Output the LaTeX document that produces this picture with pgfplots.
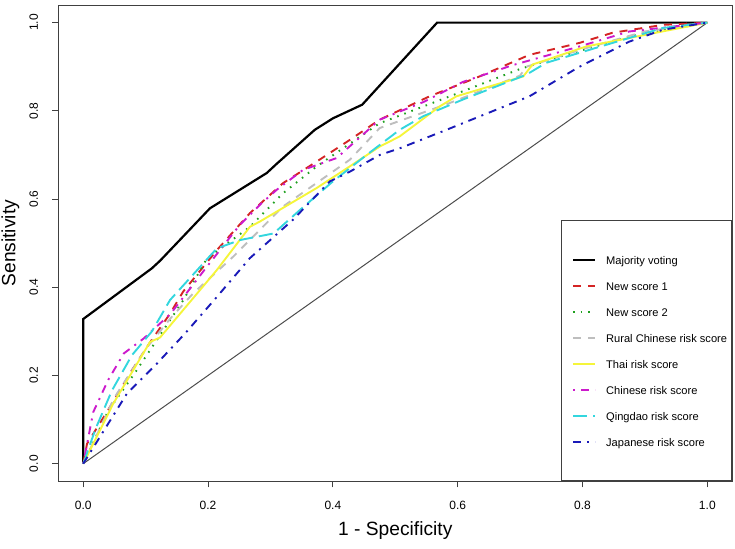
\documentclass[border=0pt]{standalone}
\usepackage{pgfplots}
\pgfplotsset{compat=1.18}
\usepackage{fontspec}
\setmainfont{Liberation Sans}
\definecolor{cRed}{HTML}{D42424}
\definecolor{cGreen}{HTML}{1FA01F}
\definecolor{cGray}{HTML}{BEBEBE}
\definecolor{cYellow}{HTML}{F5F53A}
\definecolor{cMag}{HTML}{CC1ACC}
\definecolor{cCyan}{HTML}{33D6DE}
\definecolor{cBlue}{HTML}{1A1AB8}
\begin{document}
\begin{tikzpicture}
\path[use as bounding box] (-29.15pt,-33.35pt) rectangle (338.35pt,240.65pt);
\begin{axis}[
  at={(0,0)}, anchor=south west,
  scale only axis, width=337pt, height=238.15pt,
  xmin=-0.04, xmax=1.04, ymin=-0.04, ymax=1.04,
  axis line style={black!75, line width=0.5pt},
  xtick={0,0.2,0.4,0.6,0.8,1}, ytick={0,0.2,0.4,0.6,0.8,1},
  tick pos=left, tick align=outside,
  major tick length=3pt,
  tick style={black!75, line width=0.5pt},
  /pgf/number format/assume math mode=true,
  xticklabel style={font=\fontsize{6}{7}\selectfont, /pgf/number format/.cd, fixed, fixed zerofill, precision=1},
  yticklabel style={font=\fontsize{6}{7}\selectfont, rotate=90, anchor=south, /pgf/number format/.cd, fixed, fixed zerofill, precision=1},
  xticklabel shift=3.35pt, yticklabel shift=3.6pt,
  xlabel={1 - Specificity}, ylabel={Sensitivity},
  xlabel style={font=\fontsize{9.6}{11}\selectfont, at={(axis description cs:0.5,-0.103)}, anchor=center},
  ylabel style={font=\fontsize{9.6}{11}\selectfont, at={(axis description cs:-0.0712,0.5)}, anchor=center, rotate=0},
  legend style={at={(1,0)}, anchor=south east, draw=black!75, line width=0.5pt,
    font=\fontsize{5.55}{6}\selectfont, inner xsep=2.35pt, inner ysep=16.75pt,
    row sep=7.5pt, column sep=5pt,
    nodes={inner sep=0pt, text height=5pt, text depth=0.5pt}},
  legend cell align=left,
  legend image code/.code={\path (0pt,0pt); \draw[#1] (3pt,0pt) -- (14pt,0pt);},
]
\addplot[forget plot, black!70, line width=0.5pt] coordinates {(0,0) (1,1)};
\addplot[black, line width=1.1pt] coordinates {
(0,0) (0,0.328) (0.11,0.443) (0.123,0.46) (0.203,0.579) (0.294,0.659) (0.31,0.68)
(0.371,0.757) (0.4,0.783) (0.447,0.814) (0.567,1) (1,1)};
\addlegendentry{Majority voting}
\addplot[cRed, line width=0.95pt, dash pattern=on 4pt off 3.5pt] coordinates {
(0,0) (0.006,0.045) (0.043,0.129) (0.078,0.212) (0.107,0.275) (0.139,0.34) (0.16,0.39)
(0.214,0.484) (0.267,0.568) (0.32,0.636) (0.374,0.685) (0.427,0.734) (0.475,0.78)
(0.555,0.833) (0.635,0.878) (0.715,0.927) (0.795,0.954) (0.848,0.977) (0.929,0.995) (1,1)};
\addlegendentry{New score 1}
\addplot[cGreen, line width=0.95pt, dash pattern=on 0.8pt off 3pt] coordinates {
(0,0) (0.04,0.12) (0.08,0.2) (0.12,0.285) (0.16,0.37) (0.198,0.465) (0.267,0.537)
(0.32,0.613) (0.374,0.674) (0.475,0.772) (0.582,0.83) (0.7,0.895) (0.773,0.927) (0.88,0.97) (1,1)};
\addlegendentry{New score 2}
\addplot[cGray, line width=0.95pt, dash pattern=on 4pt off 3.5pt] coordinates {
(0,0) (0.05,0.15) (0.1,0.26) (0.14,0.33) (0.176,0.386) (0.24,0.469) (0.32,0.583)
(0.427,0.689) (0.475,0.761) (0.582,0.815) (0.7,0.88) (0.71,0.9) (0.8,0.94) (0.9,0.98) (1,1)};
\addlegendentry{Rural Chinese risk score}
\addplot[cYellow, line width=0.95pt] coordinates {
(0,0) (0.048,0.136) (0.107,0.276) (0.123,0.286) (0.214,0.439) (0.267,0.537) (0.283,0.549)
(0.374,0.625) (0.427,0.674) (0.475,0.719) (0.507,0.742) (0.571,0.81) (0.598,0.833)
(0.705,0.878) (0.72,0.905) (0.806,0.946) (1,1)};
\addlegendentry{Thai risk score}
\addplot[cMag, line width=0.95pt, dash pattern=on 1pt off 3pt on 4pt off 3pt] coordinates {
(0,0) (0.016,0.117) (0.04,0.19) (0.065,0.25) (0.097,0.284) (0.14,0.34) (0.2,0.45)
(0.25,0.54) (0.283,0.587) (0.31,0.621) (0.352,0.666) (0.406,0.693) (0.475,0.78)
(0.545,0.82) (0.609,0.866) (0.689,0.904) (0.795,0.946) (0.875,0.98) (1,1)};
\addlegendentry{Chinese risk score}
\addplot[cCyan, line width=0.95pt, dash pattern=on 7pt off 3pt] coordinates {
(0,0) (0.02,0.08) (0.046,0.166) (0.078,0.246) (0.11,0.3) (0.139,0.371) (0.214,0.488)
(0.251,0.507) (0.305,0.522) (0.347,0.575) (0.4,0.64) (0.454,0.70) (0.507,0.757)
(0.545,0.788) (0.609,0.826) (0.71,0.882) (0.742,0.909) (0.822,0.943) (0.929,0.988) (1,1)};
\addlegendentry{Qingdao risk score}
\addplot[cBlue, line width=0.95pt, dash pattern=on 4pt off 3pt on 1pt off 3pt] coordinates {
(0,0) (0.07,0.159) (0.118,0.227) (0.163,0.295) (0.214,0.378) (0.267,0.466) (0.336,0.553)
(0.395,0.64) (0.427,0.662) (0.475,0.70) (0.507,0.715) (0.582,0.757) (0.715,0.833)
(0.795,0.90) (0.875,0.957) (0.929,0.984) (1,1)};
\addlegendentry{Japanese risk score}
\end{axis}
\end{tikzpicture}
\end{document}
